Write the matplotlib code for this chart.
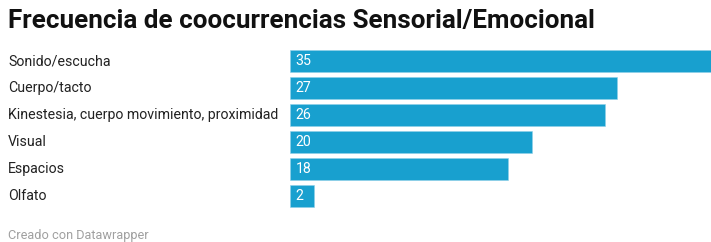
import matplotlib.pyplot as plt
from matplotlib.transforms import blended_transform_factory

categories = ["Sonido/escucha", "Cuerpo/tacto", "Kinestesia, cuerpo movimiento, proximidad",
              "Visual", "Espacios", "Olfato"]
values = [35, 27, 26, 20, 18, 2]

W, H = 711, 242
plt.rcParams['font.family'] = ['Roboto', 'DejaVu Sans']

fig = plt.figure(figsize=(W / 100, H / 100), dpi=100)
# axes spans x 290..711 px, y 47.5..209.5 px
ax = fig.add_axes([290 / W, 1 - 209.5 / H, (W - 290) / W, 162 / H])

pos = list(range(len(values)))
ax.barh(pos, values, height=22 / 27, color="#18a0cf", edgecolor="#8fd0e8", linewidth=0.4)
ax.set_xlim(0, 421 / 12.1)
ax.set_ylim(len(values) - 0.5, -0.5)
ax.axis("off")

tr = blended_transform_factory(fig.transFigure, ax.transData)
for i, (c, v) in enumerate(zip(categories, values)):
    ax.text(8 / W, i, c, transform=tr, ha="left", va="center", fontsize=10.2, color="#222222")
    ax.text(0.45, i, str(v), ha="left", va="center", fontsize=10.2, color="white")

fig.text(8 / W, 1 - 21 / H, "Frecuencia de coocurrencias Sensorial/Emocional",
         ha="left", va="center", fontsize=18.7, fontweight="bold", color="#111111")
fig.text(8 / W, 1 - 236 / H, "Creado con Datawrapper", ha="left", va="center",
         fontsize=9.2, color="#a0a0a0")

fig.savefig("out.png", dpi=100)
